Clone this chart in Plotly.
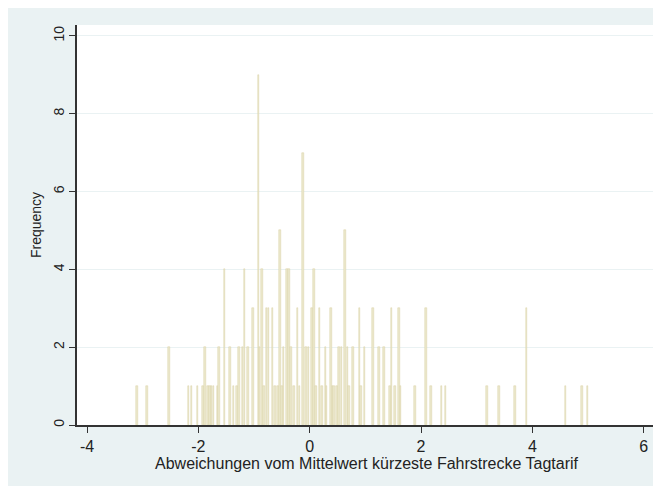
import plotly.graph_objects as go

# Bin centres (deviation values) and frequencies
values = [-3.10, -2.92, -2.53, -2.18, -2.12, -2.02, -1.92, -1.88, -1.83, -1.79,
          -1.76, -1.73, -1.66, -1.63, -1.53, -1.43, -1.37, -1.31, -1.27, -1.21,
          -1.17, -1.11, -1.02, -0.92, -0.90, -0.86, -0.82, -0.78, -0.74, -0.67,
          -0.62, -0.57, -0.53, -0.50, -0.47, -0.41, -0.37, -0.34, -0.28, -0.22,
          -0.18, -0.12, -0.07, -0.02, 0.04, 0.08, 0.11, 0.18, 0.22, 0.28,
          0.30, 0.38, 0.41, 0.44, 0.49, 0.53, 0.57, 0.63, 0.68, 0.71,
          0.78, 0.89, 0.92, 0.98, 1.14, 1.24, 1.33, 1.44, 1.47, 1.53,
          1.60, 1.63, 1.89, 2.09, 2.18, 2.37, 2.44, 3.18, 3.40, 3.69,
          3.89, 4.59, 4.89, 4.99]
freq = [1, 1, 2, 1, 1, 1, 1, 2, 1, 1,
        1, 1, 1, 2, 4, 2, 1, 1, 2, 2,
        4, 2, 3, 9, 2, 4, 1, 3, 3, 3,
        1, 1, 5, 1, 2, 4, 4, 2, 1, 3,
        1, 7, 2, 2, 3, 4, 1, 3, 1, 2,
        1, 3, 1, 1, 1, 2, 2, 5, 2, 1,
        2, 3, 1, 2, 3, 2, 2, 1, 3, 1,
        3, 1, 1, 3, 1, 1, 1, 1, 1, 1,
        3, 1, 1, 1]

x_ticks = [-4, -2, 0, 2, 4, 6]
y_ticks = [0, 2, 4, 6, 8, 10]

fig = go.Figure(go.Bar(
    x=values, y=freq, width=0.027,
    marker=dict(color="#ECE9CC", line=dict(color="#D8D3A6", width=0.5)),
    hoverinfo="x+y",
))

font_color = "#222222"
fig.update_layout(
    width=650, height=480,
    margin=dict(l=69, r=2, t=17, b=63),
    paper_bgcolor="#EAF2F3",
    plot_bgcolor="#FFFFFF",
    font=dict(family="Liberation Sans, Arial, sans-serif", size=14, color=font_color),
    showlegend=False,
    bargap=0,
    xaxis=dict(
        range=[-4.18, 6.22], tickvals=x_ticks, ticktext=[str(v) for v in x_ticks],
        showgrid=False, zeroline=False, automargin=False,
        showline=True, linecolor="#333333", linewidth=1.5,
        ticks="outside", ticklen=6, tickcolor="#333333", tickwidth=1.2,
        title=dict(text="Abweichungen vom Mittelwert kürzeste Fahrstrecke Tagtarif",
                   standoff=0, font=dict(size=16)),
        tickfont=dict(size=16),
    ),
    yaxis=dict(
        range=[0, 10.28], tickvals=y_ticks, ticktext=[str(v) for v in y_ticks],
        tickangle=-90, automargin=False,
        showgrid=True, gridcolor="#EAF2F3", gridwidth=1,
        zeroline=False,
        showline=True, linecolor="#333333", linewidth=1.5,
        ticks="outside", ticklen=6, tickcolor="#333333", tickwidth=1.2,
        title=dict(text="Frequency", standoff=6, font=dict(size=14)),
        tickfont=dict(size=14),
    ),
)

fig.write_html("out.html")
